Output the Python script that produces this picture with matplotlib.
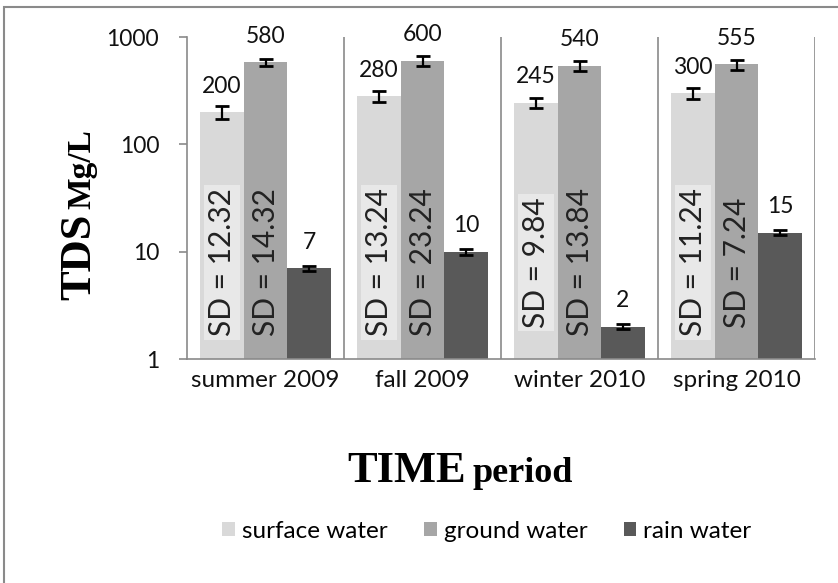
import numpy as np
import matplotlib.pyplot as plt
from matplotlib.patches import Rectangle

categories = ['summer 2009', 'fall 2009', 'winter 2010', 'spring 2010']
series = ['surface water', 'ground water', 'rain water']
surface = [200, 280, 245, 300]
ground = [580, 600, 540, 555]
rain = [7, 10, 2, 15]
surface_err = [28, 31, 27, 35]
ground_err = [48, 62, 58, 60]
rain_err = [0.4, 0.6, 0.1, 0.8]
surface_sd = ['12.32', '13.24', '9.84', '11.24']
ground_sd = ['14.32', '23.24', '13.84', '7.24']

colors = ['#d9d9d9', '#a6a6a6', '#595959']
grid_col = '#8a8a8a'
font = 'Lato'

fig = plt.figure(figsize=(8.38, 5.83), dpi=100)
ax = fig.add_axes([187/838, 1-359/583, 628/838, 322/583])

x = np.arange(len(categories))
w = 0.277
values = [surface, ground, rain]
errs = [surface_err, ground_err, rain_err]
for i, (vals, err) in enumerate(zip(values, errs)):
    xs = x + (i - 1) * w
    ax.bar(xs, vals, w, color=colors[i], label=series[i], zorder=2)
    ax.errorbar(xs, vals, yerr=err, fmt='none', ecolor='black',
                elinewidth=1.6, capsize=4.7, capthick=2, zorder=3)
    for xi, v in zip(xs, vals):
        ax.annotate(str(v), (xi, v), xytext=(0, 14), textcoords='offset points',
                    ha='center', va='baseline', fontsize=16.5, family=font,
                    color='#111111')

# SD labels inside bars
for xi, sd in zip(x - w, surface_sd):
    ax.text(xi, 0.30, 'SD = ' + sd, transform=ax.get_xaxis_transform(),
            rotation=90, ha='center', va='center', fontsize=21.5, family=font,
            color='#222222', zorder=4,
            bbox=dict(boxstyle='square,pad=0.12', fc='#e8e8e8', ec='none'))
for xi, sd in zip(x, ground_sd):
    ax.text(xi, 0.30, 'SD = ' + sd, transform=ax.get_xaxis_transform(),
            rotation=90, ha='center', va='center', fontsize=21.5, family=font,
            color='#222222', zorder=4)

ax.set_yscale('log')
ax.set_ylim(1, 1000)
ax.set_xlim(-0.5, 3.5)
ax.set_yticks([1, 10, 100, 1000])
ax.set_yticklabels(['1', '10', '100', '1000'])
ax.minorticks_off()
ax.set_xticks(x)
ax.set_xticklabels(categories)
for lab in ax.get_yticklabels():
    lab.set_family(font)
    lab.set_fontsize(16.5)
    lab.set_color('#111111')
for lab in ax.get_xticklabels():
    lab.set_family(font)
    lab.set_fontsize(17.5)
    lab.set_color('#111111')
ax.tick_params(axis='x', length=0, pad=8)
ax.tick_params(axis='y', length=6, width=1.2, color=grid_col, pad=14)

for xv in [0.5, 1.5, 2.5, 3.5]:
    ax.axvline(xv, color=grid_col, lw=1.2, zorder=1)

for s in ['top', 'right']:
    ax.spines[s].set_visible(False)
for s in ['left', 'bottom']:
    ax.spines[s].set_color(grid_col)
    ax.spines[s].set_linewidth(1.2)

# axis titles: big word + smaller word
fig.text(90/838, 1-300/583, 'TDS', rotation=90, rotation_mode='anchor',
         ha='left', va='baseline', fontsize=32, family='Liberation Serif',
         weight='bold')
fig.text(90/838, 1-209/583, 'Mg/L', rotation=90, rotation_mode='anchor',
         ha='left', va='baseline', fontsize=24, family='Liberation Serif',
         weight='bold')
fig.text(347/838, 1-482/583, 'TIME', ha='left', va='baseline', fontsize=32,
         family='Liberation Serif', weight='bold')
fig.text(472/838, 1-482/583, 'period', ha='left', va='baseline', fontsize=26,
         family='Liberation Serif', weight='bold')

fig.legend(loc='center', bbox_to_anchor=(487/838, 1-531/583), ncol=3,
           frameon=False, prop={'family': font, 'size': 17.5},
           handlelength=0.53, handleheight=0.53, handletextpad=0.29,
           columnspacing=1.48)

fig.patches.append(Rectangle((4/838, -0.1), 1.2, 1-7/583+0.1,
                             transform=fig.transFigure, fill=False,
                             ec=grid_col, lw=1.5))

fig.savefig('out.png', dpi=100)
